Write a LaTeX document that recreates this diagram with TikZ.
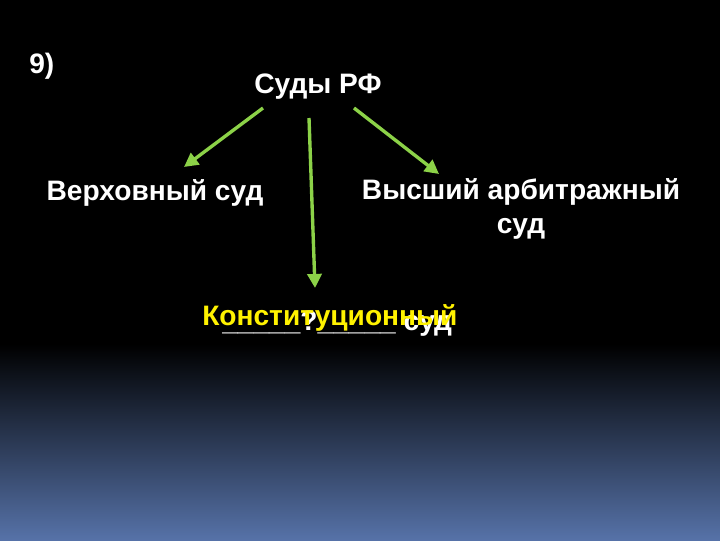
\documentclass[tikz,border=0pt]{standalone}
\usepackage{fontspec}
\setmainfont{Liberation Sans}
\usetikzlibrary{arrows.meta}
\definecolor{arrgreen}{RGB}{140,210,72}
\definecolor{bottomblue}{RGB}{86,114,168}
\begin{document}
\begin{tikzpicture}[x=0.025cm, y=-0.025cm,
    lbl/.style={text=white, inner sep=0pt, anchor=base, font=\fontsize{20}{24.5}\selectfont\bfseries},
    arr/.style={arrgreen, line width=2.4pt, -{Triangle[length=10pt, width=10pt]}}]
    \useasboundingbox (0,0) rectangle (720,540);
    \fill[black] (0,0) rectangle (720,345);
    \shade[top color=black, bottom color=bottomblue] (0,344) rectangle (720,540);
    \node[lbl, anchor=base west] (num) at (29,73) {9)};
    \node[lbl] (courts) at (318,93) {Суды РФ};
    \node[lbl] (supreme) at (155,200) {Верховный суд};
    \node[lbl, anchor=north, align=center] (arbitr) at (521,178) {Высший арбитражный\\суд};
    \node[lbl, anchor=base west] (blank) at (222,330) {\_\_\_\_\_?\_\_\_\_\_ суд};
    \node[lbl, anchor=base west, text=yellow] (constit) at (202,325) {Конституционный};
    \coordinate (l1) at (263,108);
    \coordinate (l2) at (184,167);
    \coordinate (m1) at (309,118);
    \coordinate (m2) at (315,288);
    \coordinate (r1) at (354,108);
    \coordinate (r2) at (439,174);
    \draw[arr] (l1) -- (l2);
    \draw[arr] (m1) -- (m2);
    \draw[arr] (r1) -- (r2);
\end{tikzpicture}
\end{document}
